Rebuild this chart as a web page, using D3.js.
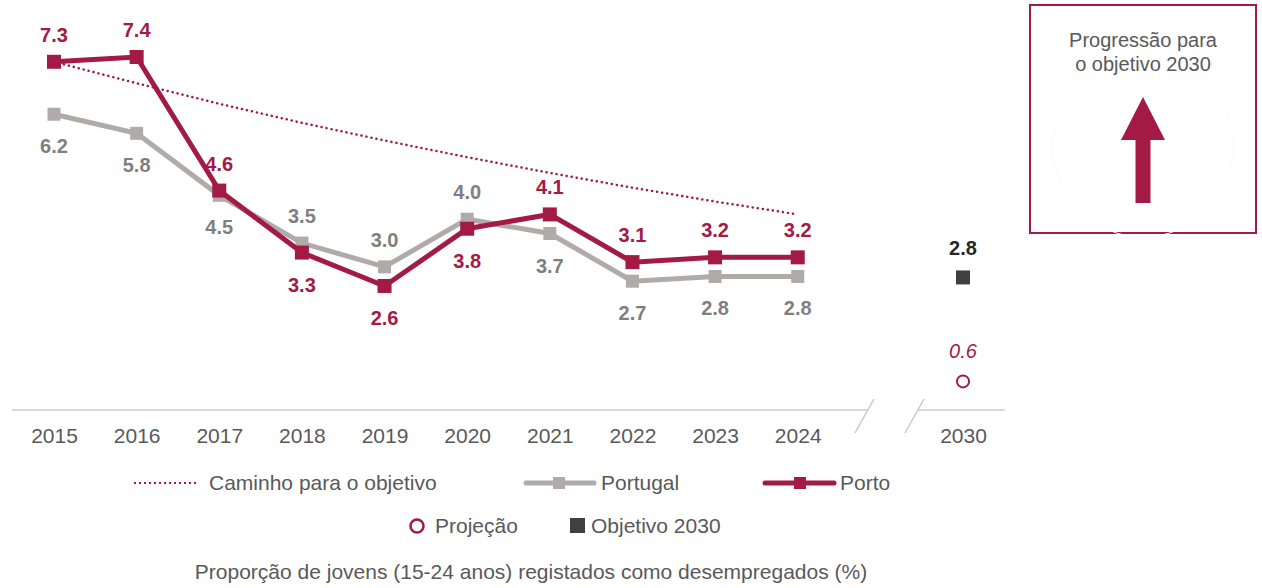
<!DOCTYPE html>
<html>
<head>
<meta charset="utf-8">
<script src="https://cdn.jsdelivr.net/npm/d3@7"></script>
<style>
  body { margin: 0; background: #ffffff; }
  svg { font-family: "Liberation Sans", Arial, sans-serif; }
</style>
</head>
<body>
<div id="chart"></div>
<script>
const years = ["2015", "2016", "2017", "2018", "2019", "2020", "2021", "2022", "2023", "2024"];
const portugal = [6.2, 5.8, 4.5, 3.5, 3.0, 4.0, 3.7, 2.7, 2.8, 2.8];
const porto = [7.3, 7.4, 4.6, 3.3, 2.6, 3.8, 4.1, 3.1, 3.2, 3.2];
const caminho = [7.3, 6.85, 6.42, 6.02, 5.65, 5.30, 4.97, 4.66, 4.37, 4.10];
// label placement per year (true = below the point)
const portoBelow = [false, false, false, true, true, true, false, false, false, false];
const portugalBelow = [true, true, true, false, false, false, true, true, true, true];
const targetYear = "2030";
const objetivo2030 = 2.8;
const projecao2030 = 0.6;

const crimson = "#a31a44",
      greyLine = "#b0abaa",
      greyText = "#7f7f7f",
      textCol = "#595959";

const W = 1262, H = 588;

const svg = d3.select("#chart")
  .append("svg")
  .attr("width", W)
  .attr("height", H);

const x = d3.scalePoint()
  .domain([...years, "gap", targetYear])
  .range([54, 963]);

const y = d3.scaleLinear()
  .domain([0, 7.4])
  .range([410, 57]);

// axis baseline with break
svg.append("line")
  .attr("x1", 12).attr("x2", 867)
  .attr("y1", y(0)).attr("y2", y(0))
  .attr("stroke", "#d9d9d9").attr("stroke-width", 2);
svg.append("line")
  .attr("x1", 917).attr("x2", 1005)
  .attr("y1", y(0)).attr("y2", y(0))
  .attr("stroke", "#d9d9d9").attr("stroke-width", 2);
[[874, 855], [924, 905]].forEach(([a, b]) => {
  svg.append("line")
    .attr("x1", a).attr("y1", 399)
    .attr("x2", b).attr("y2", 433)
    .attr("stroke", "#c8c8c8").attr("stroke-width", 1.5);
});

const xAxis = svg.append("g")
  .attr("transform", `translate(0,${y(0)})`)
  .call(d3.axisBottom(x).tickValues([...years, targetYear]).tickSize(0).tickPadding(18));
xAxis.select(".domain").remove();
xAxis.selectAll("text")
  .attr("fill", textCol)
  .style("font-size", "21px")
  .style("font-family", "'Liberation Sans', Arial, sans-serif");

// path to the objective
const line = d3.line()
  .x((d, i) => x(years[i]))
  .y(d => y(d));

svg.append("path")
  .datum(caminho)
  .attr("fill", "none")
  .attr("stroke", crimson)
  .attr("stroke-width", 2.5)
  .attr("stroke-linecap", "round")
  .attr("stroke-dasharray", "0.1,5")
  .attr("d", line);

// Portugal
svg.append("path")
  .datum(portugal)
  .attr("fill", "none")
  .attr("stroke", greyLine)
  .attr("stroke-width", 5)
  .attr("d", line);
svg.selectAll("rect.pt")
  .data(portugal)
  .join("rect")
  .attr("class", "pt")
  .attr("x", (d, i) => x(years[i]) - 6.5)
  .attr("y", d => y(d) - 6.5)
  .attr("width", 13).attr("height", 13)
  .attr("fill", greyLine);

// Porto
svg.append("path")
  .datum(porto)
  .attr("fill", "none")
  .attr("stroke", crimson)
  .attr("stroke-width", 5)
  .attr("d", line);
svg.selectAll("rect.po")
  .data(porto)
  .join("rect")
  .attr("class", "po")
  .attr("x", (d, i) => x(years[i]) - 7)
  .attr("y", d => y(d) - 7)
  .attr("width", 14).attr("height", 14)
  .attr("fill", crimson);

// value labels
svg.selectAll("text.ptl")
  .data(portugal)
  .join("text")
  .attr("class", "ptl")
  .attr("x", (d, i) => x(years[i]))
  .attr("y", (d, i) => portugalBelow[i] ? y(d) + 39 : y(d) - 20)
  .attr("text-anchor", "middle")
  .attr("fill", greyText)
  .style("font-size", "20px")
  .style("font-weight", "bold")
  .text(d => d.toFixed(1));

svg.selectAll("text.pol")
  .data(porto)
  .join("text")
  .attr("class", "pol")
  .attr("x", (d, i) => x(years[i]))
  .attr("y", (d, i) => portoBelow[i] ? y(d) + 39 : y(d) - 20)
  .attr("text-anchor", "middle")
  .attr("fill", crimson)
  .style("font-size", "20px")
  .style("font-weight", "bold")
  .text(d => d.toFixed(1));

// 2030 objective and projection
svg.append("rect")
  .attr("x", x(targetYear) - 7)
  .attr("y", y(objetivo2030) - 6)
  .attr("width", 14).attr("height", 14)
  .attr("fill", "#404040");
svg.append("text")
  .attr("x", x(targetYear))
  .attr("y", y(objetivo2030) - 21)
  .attr("text-anchor", "middle")
  .attr("fill", "#262626")
  .style("font-size", "20px")
  .style("font-weight", "bold")
  .text(objetivo2030.toFixed(1));

svg.append("circle")
  .attr("cx", x(targetYear))
  .attr("cy", y(projecao2030))
  .attr("r", 6)
  .attr("fill", "#fff")
  .attr("stroke", crimson)
  .attr("stroke-width", 2);
svg.append("text")
  .attr("x", x(targetYear))
  .attr("y", y(projecao2030) - 23)
  .attr("text-anchor", "middle")
  .attr("fill", crimson)
  .style("font-size", "20px")
  .style("font-style", "italic")
  .text(projecao2030.toFixed(1));

// Legend
const lg = svg.append("g").style("font-size", "21px").attr("fill", textCol);

lg.append("line")
  .attr("x1", 134).attr("x2", 197).attr("y1", 483).attr("y2", 483)
  .attr("stroke", crimson).attr("stroke-width", 2).attr("stroke-dasharray", "2,3");
lg.append("text").attr("x", 209).attr("y", 490).text("Caminho para o objetivo");

lg.append("line")
  .attr("x1", 526).attr("x2", 594).attr("y1", 483).attr("y2", 483)
  .attr("stroke", greyLine).attr("stroke-width", 5).attr("stroke-linecap", "round");
lg.append("rect").attr("x", 553).attr("y", 477).attr("width", 12).attr("height", 12).attr("fill", greyLine);
lg.append("text").attr("x", 601).attr("y", 490).text("Portugal");

lg.append("line")
  .attr("x1", 765).attr("x2", 834).attr("y1", 483).attr("y2", 483)
  .attr("stroke", crimson).attr("stroke-width", 5).attr("stroke-linecap", "round");
lg.append("rect").attr("x", 794).attr("y", 477).attr("width", 12).attr("height", 12).attr("fill", crimson);
lg.append("text").attr("x", 840).attr("y", 490).text("Porto");

lg.append("circle").attr("cx", 417).attr("cy", 526).attr("r", 6.5)
  .attr("fill", "#fff").attr("stroke", crimson).attr("stroke-width", 2.5);
lg.append("text").attr("x", 435).attr("y", 533).text("Projeção");

lg.append("rect").attr("x", 570).attr("y", 518).attr("width", 15).attr("height", 15).attr("fill", "#404040");
lg.append("text").attr("x", 591).attr("y", 533).text("Objetivo 2030");

svg.append("text")
  .attr("x", 531).attr("y", 579)
  .attr("text-anchor", "middle")
  .attr("fill", textCol)
  .style("font-size", "21px")
  .text("Proporção de jovens (15-24 anos) registados como desempregados (%)");

// Progress box
const box = svg.append("g");
box.append("rect")
  .attr("x", 1030).attr("y", 5)
  .attr("width", 226).attr("height", 228)
  .attr("fill", "#fff")
  .attr("stroke", crimson).attr("stroke-width", 2);
box.append("circle")
  .attr("cx", 1143).attr("cy", 147).attr("r", 90)
  .attr("fill", "none").attr("stroke", "#fbfbfb");
box.append("text")
  .attr("x", 1143).attr("y", 47)
  .attr("text-anchor", "middle")
  .attr("fill", textCol)
  .style("font-size", "20px")
  .text("Progressão para");
box.append("text")
  .attr("x", 1143).attr("y", 71)
  .attr("text-anchor", "middle")
  .attr("fill", textCol)
  .style("font-size", "20px")
  .text("o objetivo 2030");
box.append("path")
  .attr("d", "M1143,97 L1165,140 L1150.5,140 L1150.5,203 L1135.5,203 L1135.5,140 L1121,140 Z")
  .attr("fill", crimson);
</script>
</body>
</html>
